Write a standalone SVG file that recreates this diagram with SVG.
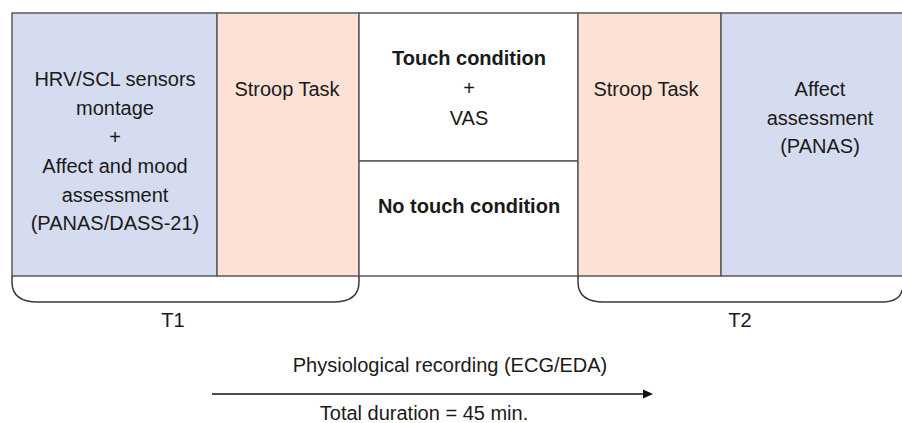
<svg xmlns="http://www.w3.org/2000/svg" width="902" height="423" viewBox="0 0 902 423">
<defs>
<style>
.cell{stroke:#595959;stroke-width:1.5}
.blue{fill:#d6dcef}
.pink{fill:#fde1d5}
.white{fill:#ffffff}
.t{font-family:"Liberation Sans",Arial,sans-serif;font-size:20px;fill:#1a1a1a;text-anchor:middle}
.b{font-weight:bold}
.br{fill:none;stroke:#3a3a3a;stroke-width:1.5}
</style>
</defs>
<rect width="902" height="423" fill="#ffffff"/>
<g id="pre-assessment">
<rect class="cell blue" x="12" y="13" width="205" height="263"/>
<text class="t" x="115" y="86">HRV/SCL sensors</text>
<text class="t" x="115" y="115">montage</text>
<text class="t" x="115" y="144">+</text>
<text class="t" x="115" y="173">Affect and mood</text>
<text class="t" x="115" y="202">assessment</text>
<text class="t" x="115" y="230">(PANAS/DASS-21)</text>
</g>
<g id="stroop1">
<rect class="cell pink" x="217" y="13" width="142" height="263"/>
<text class="t" x="287" y="96">Stroop Task</text>
</g>
<g id="touch">
<rect class="cell white" x="359" y="13" width="219" height="148"/>
<text class="t b" x="469" y="65">Touch condition</text>
<text class="t" x="469" y="95">+</text>
<text class="t" x="469" y="125">VAS</text>
</g>
<g id="notouch">
<rect class="cell white" x="359" y="161" width="219" height="115"/>
<text class="t b" x="469" y="213">No touch condition</text>
</g>
<g id="stroop2">
<rect class="cell pink" x="578" y="13" width="143" height="263"/>
<text class="t" x="646" y="96">Stroop Task</text>
</g>
<g id="post-assessment">
<rect class="cell blue" x="721" y="13" width="200" height="263"/>
<text class="t" x="820" y="96">Affect</text>
<text class="t" x="820" y="125">assessment</text>
<text class="t" x="820" y="153">(PANAS)</text>
</g>
<g id="T1">
<path class="br" d="M12,276 L12,282 Q12,302 38,302 L333,302 Q359,302 359,282 L359,276"/>
<text class="t" x="173" y="327">T1</text>
</g>
<g id="T2">
<path class="br" d="M578,276 L578,282 Q578,302 604,302 L880,302 Q900,302 902,290"/>
<text class="t" x="740" y="327">T2</text>
</g>
<g id="connectors">
<line x1="212" y1="394" x2="644" y2="394" stroke="#111" stroke-width="1.5"/>
<polygon points="643,389.5 653,394 643,398.5" fill="#111"/>
</g>
<g id="timeline">
<text class="t" x="450" y="372">Physiological recording (ECG/EDA)</text>
<text class="t" x="424" y="420">Total duration = 45 min.</text>
</g>
</svg>
